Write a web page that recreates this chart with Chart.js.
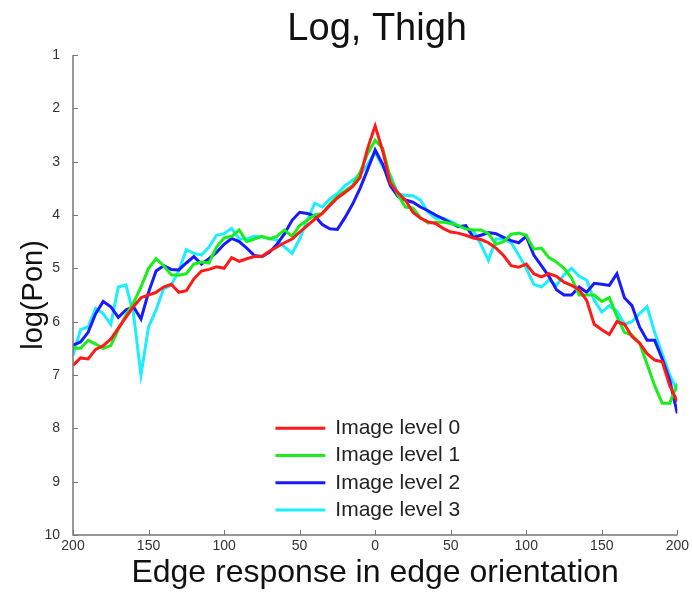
<!DOCTYPE html>
<html>
<head>
<meta charset="utf-8">
<script src="https://cdn.jsdelivr.net/npm/chart.js@4"></script>
<style>
	html, body { margin: 0; padding: 0; background: #fff; }
	#wrap { width: 692px; height: 594px; }
</style>
</head>
<body>
<div id="wrap"><canvas id="c" width="692" height="594"></canvas></div>
<script>
// edge orientation positions (signed, shown as absolute values on the axis)
const orientations = [
	-200, -195, -190, -185, -180, -175, -170, -165, -160, -155,
	-150, -145, -140, -135, -130, -125, -120, -115, -110, -105,
	-100, -95, -90, -85, -80, -75, -70, -65, -60, -55,
	-50, -45, -40, -35, -30, -25, -20, -15, -10, -5,
	0, 5, 10, 15, 20, 25, 30, 35, 40, 45,
	50, 55, 60, 65, 70, 75, 80, 85, 90, 95,
	100, 105, 110, 115, 120, 125, 130, 135, 140, 145,
	150, 155, 160, 165, 170, 175, 180, 185, 190, 195, 200,
];

const seriesNames = ["Image level 0", "Image level 1", "Image level 2", "Image level 3"];

const level0 = [
	6.82, 6.68, 6.7, 6.52, 6.45, 6.33, 6.12, 5.92, 5.72, 5.55,
	5.5, 5.45, 5.35, 5.3, 5.45, 5.42, 5.2, 5.05, 5.02, 4.97,
	5.0, 4.8, 4.87, 4.82, 4.78, 4.78, 4.68, 4.6, 4.52, 4.45,
	4.32, 4.2, 4.08, 3.97, 3.82, 3.68, 3.58, 3.47, 3.3, 2.75,
	2.33, 2.8, 3.4, 3.58, 3.72, 3.95, 4.06, 4.13, 4.16, 4.25,
	4.32, 4.34, 4.38, 4.43, 4.46, 4.52, 4.62, 4.76, 4.95, 4.98,
	4.92, 5.1, 5.16, 5.1, 5.15, 5.26, 5.32, 5.4, 5.6, 6.05,
	6.15, 6.24, 6.0, 6.05, 6.28, 6.4, 6.6, 6.72, 6.75, 7.2, 7.5,
];

const level1 = [
	6.5, 6.5, 6.35, 6.42, 6.5, 6.45, 6.15, 5.88, 5.65, 5.35,
	5.0, 4.82, 4.95, 5.12, 5.13, 5.1, 4.92, 4.88, 4.9, 4.6,
	4.43, 4.4, 4.28, 4.5, 4.45, 4.4, 4.45, 4.4, 4.28, 4.4,
	4.2, 4.1, 4.0, 3.97, 3.8, 3.65, 3.55, 3.45, 3.2, 2.85,
	2.6, 2.75, 3.3, 3.62, 3.85, 3.87, 4.05, 4.15, 4.14, 4.13,
	4.16, 4.2, 4.26, 4.28, 4.28, 4.35, 4.55, 4.5, 4.36, 4.34,
	4.38, 4.64, 4.62, 4.8, 4.88, 5.0, 5.18, 5.5, 5.5, 5.5,
	5.62, 5.55, 5.9, 6.2, 6.25, 6.4, 6.8, 7.2, 7.53, 7.53, 7.16,
];

const level2 = [
	6.44, 6.38, 6.2, 5.85, 5.62, 5.72, 5.92, 5.78, 5.72, 5.95,
	5.45, 5.05, 4.95, 5.02, 5.03, 4.9, 4.78, 4.92, 4.82, 4.7,
	4.55, 4.44, 4.5, 4.62, 4.76, 4.78, 4.7, 4.55, 4.35, 4.1,
	3.95, 3.97, 4.02, 4.18, 4.26, 4.27, 4.05, 3.8, 3.5, 3.15,
	2.78, 3.05, 3.45, 3.65, 3.72, 3.76, 3.85, 3.92, 4.0, 4.07,
	4.15, 4.22, 4.2, 4.42, 4.38, 4.33, 4.35, 4.42, 4.48, 4.52,
	4.4, 4.75, 4.95, 5.15, 5.4, 5.5, 5.5, 5.35, 5.45, 5.28,
	5.3, 5.32, 5.1, 5.55, 5.7, 6.1, 6.35, 6.35, 6.7, 7.1, 7.72,
];

const level3 = [
	6.63, 6.15, 6.1, 5.75, 5.85, 6.05, 5.35, 5.31, 5.85, 7.0,
	6.1, 5.78, 5.38, 5.32, 5.05, 4.65, 4.72, 4.75, 4.6, 4.38,
	4.35, 4.25, 4.45, 4.45, 4.4, 4.41, 4.44, 4.47, 4.6, 4.72,
	4.45, 4.1, 3.78, 3.85, 3.7, 3.6, 3.45, 3.35, 3.25, 3.05,
	2.82, 3.1, 3.25, 3.6, 3.63, 3.64, 3.72, 3.95, 4.06, 4.06,
	4.12, 4.2, 4.25, 4.3, 4.55, 4.85, 4.45, 4.45, 4.52, 4.75,
	5.0, 5.3, 5.35, 5.22, 5.32, 5.12, 5.0, 5.15, 5.22, 5.6,
	5.82, 5.7, 5.8, 6.05, 6.0, 5.85, 5.72, 6.2, 6.6, 7.0, 7.3,
];

const lineColors = ["#ff1a1a", "#1aee1a", "#1a1aff", "#1aeeff"];

const yTicks = [1, 2, 3, 4, 5, 6, 7, 8, 9, 10];
const xTicks = [-200, -150, -100, -50, 0, 50, 100, 150, 200];

const chartTitle = "Log, Thigh";
const FONT = "'Liberation Sans', Arial, sans-serif";

// axis lines + small inward tick marks, like the original plot
const axisFrame = {
	id: "axisFrame",
	afterDraw(chart) {
		const { ctx, chartArea: a, scales } = chart;
		ctx.save();
		ctx.strokeStyle = "#777";
		ctx.lineWidth = 1.5;
		ctx.beginPath();
		ctx.moveTo(a.left, a.top);
		ctx.lineTo(a.left, a.bottom);
		ctx.lineTo(a.right, a.bottom);
		ctx.stroke();
		ctx.lineWidth = 1;
		ctx.beginPath();
		yTicks.forEach((v) => {
			const y = Math.round(scales.y.getPixelForValue(v)) + 0.5;
			ctx.moveTo(a.left, y);
			ctx.lineTo(a.left + 5, y);
		});
		xTicks.forEach((v) => {
			const x = Math.round(scales.x.getPixelForValue(v)) + 0.5;
			ctx.moveTo(x, a.bottom);
			ctx.lineTo(x, a.bottom - 5);
		});
		ctx.stroke();
		// title centred over the plot area, not the whole canvas
		ctx.font = "38px " + FONT;
		ctx.fillStyle = "#111";
		ctx.textAlign = "center";
		ctx.textBaseline = "alphabetic";
		ctx.fillText(chartTitle, (a.left + a.right) / 2 + 2, 40);
		ctx.restore();
	},
};

// legend drawn inside the plot area, bottom middle
const innerLegend = {
	id: "innerLegend",
	afterDraw(chart) {
		const { ctx, scales } = chart;
		const x0 = scales.x.getPixelForValue(-66);
		const x1 = scales.x.getPixelForValue(-33);
		ctx.save();
		ctx.font = "21px " + FONT;
		ctx.textBaseline = "middle";
		ctx.fillStyle = "#222";
		chart.data.datasets.forEach((ds, i) => {
			const y = scales.y.getPixelForValue(8.0 + i * 0.51);
			ctx.strokeStyle = ds.borderColor;
			ctx.lineWidth = 3;
			ctx.beginPath();
			ctx.moveTo(x0, y);
			ctx.lineTo(x1, y);
			ctx.stroke();
			ctx.fillText(ds.label, x1 + 10, y);
		});
		ctx.restore();
	},
};

const levels = [level0, level1, level2, level3];

new Chart(document.getElementById("c"), {
	type: "line",
	data: {
		datasets: levels.map((vals, i) => ({
			label: seriesNames[i],
			data: orientations.map((x, j) => ({ x: x, y: vals[j] })),
			borderColor: lineColors[i],
			backgroundColor: lineColors[i],
			borderWidth: 3,
			pointRadius: 0,
			tension: 0,
		})),
	},
	options: {
		responsive: false,
		animation: false,
		layout: { padding: { left: 0, right: 13, top: 55, bottom: 0 } },
		plugins: {
			legend: { display: false },
			tooltip: { enabled: false },
			title: { display: false },
		},
		scales: {
			x: {
				type: "linear",
				min: -200,
				max: 200,
				afterFit: (s) => { s.height = 59; },
				afterBuildTicks: (s) => { s.ticks = xTicks.map((v) => ({ value: v })); },
				grid: { display: false, drawTicks: false, tickLength: 0 },
				border: { display: false },
				ticks: {
					color: "#333",
					padding: 3,
					maxRotation: 0,
					font: { family: FONT, size: 14 },
					callback: (v) => Math.abs(v),
				},
				title: {
					display: true,
					text: "Edge response in edge orientation",
					color: "#111",
					font: { family: FONT, size: 32 },
					padding: { top: 0, bottom: 2 },
				},
			},
			y: {
				type: "linear",
				reverse: true,
				min: 1,
				max: 10,
				afterFit: (s) => { s.width = 73; },
				afterBuildTicks: (s) => { s.ticks = yTicks.map((v) => ({ value: v })); },
				grid: { display: false, drawTicks: false, tickLength: 0 },
				border: { display: false },
				ticks: {
					color: "#333",
					padding: 13,
					font: { family: FONT, size: 14 },
				},
				title: {
					display: true,
					text: "log(Pon)",
					color: "#111",
					font: { family: FONT, size: 29 },
					padding: { top: 17, bottom: 0 },
				},
			},
		},
	},
	plugins: [axisFrame, innerLegend],
});
</script>
</body>
</html>
